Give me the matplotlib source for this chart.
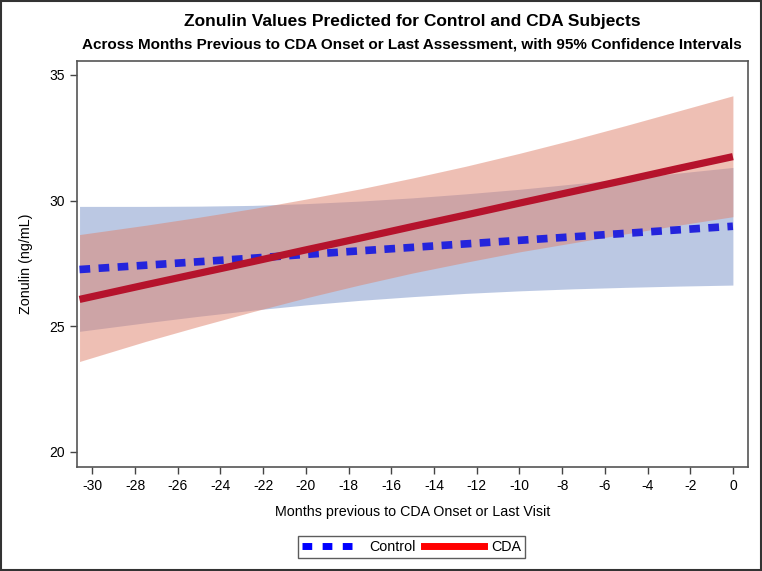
import matplotlib.pyplot as plt
from matplotlib.lines import Line2D
from matplotlib.patches import Rectangle
import numpy as np

plt.rcParams['font.family'] = ['Liberation Sans', 'DejaVu Sans']
plt.rcParams['axes.unicode_minus'] = False

# meses antes do inicio de CDA / ultima visita
months = [-30.6, -27.5, -25, -22.5, -20, -17.5, -15, -12.5, -10, -7.5, -5, -2.5, 0]

# controle: predito e IC 95%
control_fit = [27.26, 27.43, 27.57, 27.71, 27.86, 28.00, 28.14, 28.28, 28.42, 28.56, 28.70, 28.84, 28.98]
control_upper = [29.77, 29.77, 29.78, 29.81, 29.88, 29.98, 30.11, 30.27, 30.45, 30.66, 30.88, 31.10, 31.32]
control_lower = [24.80, 25.14, 25.40, 25.64, 25.85, 26.03, 26.18, 26.31, 26.41, 26.49, 26.55, 26.60, 26.64]

# CDA: predito e IC 95%
cda_fit = [26.07, 26.65, 27.11, 27.57, 28.04, 28.50, 28.97, 29.43, 29.90, 30.36, 30.82, 31.29, 31.75]
cda_upper = [28.65, 29.02, 29.34, 29.68, 30.06, 30.46, 30.90, 31.37, 31.88, 32.42, 32.99, 33.58, 34.17]
cda_lower = [23.60, 24.40, 25.00, 25.58, 26.13, 26.64, 27.12, 27.55, 27.96, 28.32, 28.68, 29.03, 29.36]

xticks = list(range(-30, 1, 2))
yticks = [20, 25, 30, 35]

fig = plt.figure(figsize=(7.62, 5.71), dpi=100)
ax = fig.add_axes([0.101, 0.182, 0.881, 0.711])

ax.fill_between(months, control_lower, control_upper, color=(121/255, 147/255, 201/255), alpha=0.5, lw=0)
ax.fill_between(months, cda_lower, cda_upper, color=(223/255, 129/255, 107/255), alpha=0.5, lw=0)

ax.plot(months, control_fit, color='#2424dc', lw=5.5, dashes=(1.4, 1.1), dash_capstyle='butt')
ax.plot(months, cda_fit, color='#b5132c', lw=5.2, solid_capstyle='butt')

ax.set_xlim(-30.72, 0.72)
ax.set_ylim(19.4, 35.55)
ax.set_xticks(xticks)
ax.set_yticks(yticks)
ax.tick_params(direction='out', length=5, width=1, colors='#444444', labelcolor='black', labelsize=10)
for s in ax.spines.values():
    s.set_color('#555555')
    s.set_linewidth(1.2)

ax.set_xlabel('Months previous to CDA Onset or Last Visit', fontsize=10.3, labelpad=9)
ax.set_ylabel('Zonulin (ng/mL)', fontsize=10.3, labelpad=12)

fig.text(0.541, 0.962, 'Zonulin Values Predicted for Control and CDA Subjects',
         ha='center', va='center', fontsize=12.5, fontweight='bold')
fig.text(0.541, 0.922, 'Across Months Previous to CDA Onset or Last Assessment, with 95% Confidence Intervals',
         ha='center', va='center', fontsize=11, fontweight='bold')

# legenda
handles = [Line2D([], [], color='#0000ff', lw=5, dashes=(1.4, 1.5)),
           Line2D([], [], color='#ff0000', lw=5)]
leg = fig.legend(handles, ['Control', 'CDA'], loc='center', bbox_to_anchor=(0.54, 0.042),
                 ncol=2, fontsize=10.3, frameon=True, fancybox=False, handlelength=4.2,
                 handletextpad=0.5, columnspacing=0.6, borderpad=0.25, edgecolor='#333333')
leg.get_frame().set_linewidth(1)

# borda da figura
fig.patches.append(Rectangle((0.001, 0.001), 0.998, 0.997, transform=fig.transFigure,
                             fill=False, edgecolor='#333333', lw=1.5))

fig.savefig('out.png', dpi=100)
